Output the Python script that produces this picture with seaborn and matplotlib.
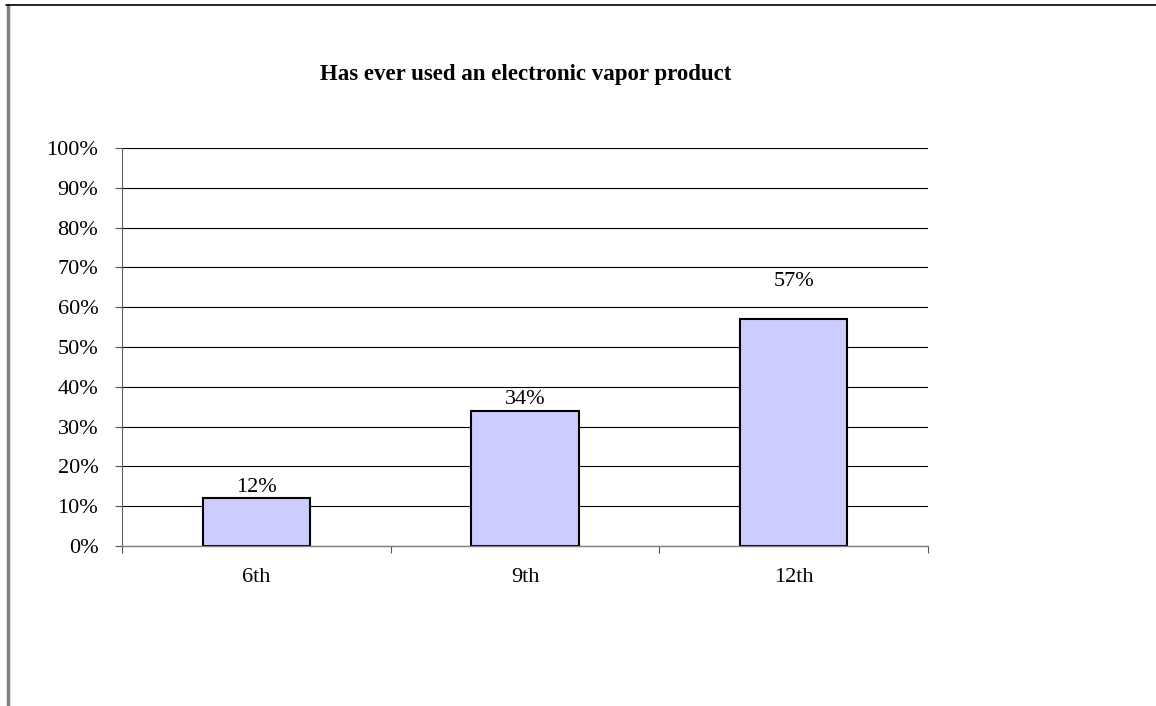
import matplotlib
matplotlib.use("Agg")
import matplotlib.pyplot as plt
import seaborn as sns
from matplotlib.lines import Line2D
from matplotlib.ticker import FixedLocator, PercentFormatter

grades = ["6th", "9th", "12th"]
pct = [12, 34, 57]
label_pad = [1, 1, 20]  # the 57% label sits higher in the original
title = "Has ever used an electronic vapor product"

sns.set_theme(style="white")
plt.rcParams["font.family"] = ["Liberation Serif", "DejaVu Serif"]
plt.rcParams["text.color"] = "black"

fig = plt.figure(figsize=(11.56, 7.06), dpi=100)
ax = fig.add_axes([0.1055, 0.2266, 0.6973, 0.5638])

sns.barplot(x=grades, y=pct, color="#CCCCFF", edgecolor="black",
            linewidth=1.5, width=0.4, saturation=1, ax=ax)

ax.set_ylim(0, 100)
ax.set_xlim(-0.5, len(grades) - 0.5)
ax.set_yticks(range(0, 101, 10))
ax.yaxis.set_major_formatter(PercentFormatter(decimals=0))
ax.grid(axis="y", color="black", linewidth=0.8)
ax.set_axisbelow(True)

# ticks sit between categories on the x axis
ax.tick_params(axis="x", which="major", length=0, labelsize=16, pad=16, labelcolor="black")
ax.xaxis.set_minor_locator(FixedLocator([i - 0.5 for i in range(len(grades) + 1)]))
ax.tick_params(axis="x", which="minor", length=5, width=0.8, color="#555555", bottom=True)
ax.tick_params(axis="y", length=5, width=0.8, color="#555555", labelsize=16, left=True, pad=12,
               labelcolor="black")

for s in ["top", "right"]:
    ax.spines[s].set_visible(False)
ax.spines["left"].set_color("#606060")
ax.spines["bottom"].set_color("#808080")
ax.spines["left"].set_linewidth(0.8)
ax.spines["bottom"].set_linewidth(1.0)

bars = ax.containers[0]
for rect, v, p in zip(bars, pct, label_pad):
    ax.annotate(f"{v}%", (rect.get_x() + rect.get_width() / 2, rect.get_height()),
                xytext=(0, p), textcoords="offset points", ha="center", va="bottom",
                fontsize=16, color="black")

fig.text(0.4545, 0.894, title, ha="center", va="center", fontsize=16.5, fontweight="bold")

# outer frame (left and top edges)
fig.add_artist(Line2D([0.0065, 0.0065], [0, 0.993], color="#808080", linewidth=2.5,
                      transform=fig.transFigure))
fig.add_artist(Line2D([0.0055, 1.0], [0.9935, 0.9935], color="black", linewidth=1.2,
                      transform=fig.transFigure))

fig.savefig("out.png", dpi=100)
